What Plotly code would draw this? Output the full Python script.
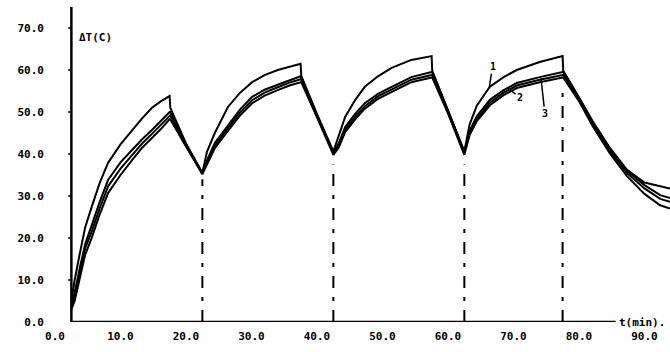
import plotly.graph_objects as go

# time (min)
t = [2.5, 3.0, 3.8, 4.6, 5.6, 6.8, 8.1, 10.0, 11.8, 13.3, 14.8, 16.2, 17.5, 17.6, 20.0, 22.5,
     23.2, 24.4, 26.4, 28.2, 30.1, 32.0, 34.0, 35.8, 37.5, 37.6, 40.0, 42.5,
     43.3, 44.3, 45.8, 47.3, 49.3, 51.4, 54.4, 57.5, 57.6, 60.0, 62.5,
     63.3, 64.4, 66.4, 68.5, 70.5, 74.0, 77.5, 77.6, 80.0, 82.1, 84.7, 87.3, 90.0, 92.4, 93.9]

s1 = [5, 10, 16.4, 22.5, 27.4, 33, 37.9, 42.3, 45.7, 48.5, 51, 52.6, 53.8, 51, 42.5, 35.5,
      40.5, 45, 51.2, 54.5, 57.1, 58.8, 60, 60.8, 61.5, 58.6, 49.5, 40.6,
      44.5, 48.8, 52.8, 56, 58.5, 60.5, 62.4, 63.3, 59.8, 50.5, 40.6,
      47, 51.5, 56, 58.3, 60, 61.9, 63.3, 59.8, 53.5, 47.8, 41.5, 36.3, 33.2, 32.3, 31.8]
s2 = [4, 7, 13, 18.5, 23, 28.5, 33.8, 38, 41, 43.5, 45.7, 48, 50.0, 50.0, 42.3, 35.3,
      38.5, 42.6, 46.9, 50.5, 53.6, 55.3, 56.5, 57.6, 58.5, 58.3, 49.3, 40.4,
      42.5, 46.4, 49.5, 52.1, 54.3, 56, 58.3, 59.5, 59.5, 50.3, 40.4,
      45.5, 49, 52.9, 55.2, 56.9, 58.3, 59.5, 59.5, 53.3, 47.5, 41.2, 36, 32.6, 30.2, 29.5]
s3 = [3.5, 6, 12, 17.5, 21.5, 27, 32.3, 36.5, 39.8, 42.5, 44.8, 47, 49.2, 49.2, 42.0, 35.5,
      38, 42, 46.2, 49.8, 52.8, 54.6, 55.9, 57.0, 57.8, 57.8, 49, 40.2,
      42, 45.8, 48.8, 51.4, 53.7, 55.4, 57.7, 58.8, 58.8, 50, 40.2,
      45, 48.4, 52.2, 54.6, 56.3, 57.7, 58.8, 58.8, 53, 47.2, 40.8, 35.5, 31.8, 29.3, 28.6]
s4 = [3, 5, 10.5, 16, 20, 25.5, 30.7, 35, 38.6, 41.5, 43.8, 46, 48.3, 48.3, 41.8, 35.2,
      37.5, 41.4, 45.5, 49.1, 52.1, 53.9, 55.2, 56.3, 57.1, 57.1, 48.7, 39.8,
      41.5, 45.2, 48.2, 50.8, 53.1, 54.8, 57.1, 58.2, 58.2, 49.7, 39.8,
      44.5, 47.8, 51.6, 54, 55.7, 57.1, 58.2, 58.2, 52.6, 46.6, 40.2, 34.8, 30.5, 27.8, 27.0]

# switching instants (dash-dot markers) and the level where each marker starts
switch_t = [22.5, 42.5, 62.5, 77.5]
switch_top = [34.0, 37.5, 37.5, 55.5]

x_ticks = [0, 10, 20, 30, 40, 50, 60, 70, 80, 90]
x_labels = ["0.0", "10.0", "20.0", "30.0", "40.0", "50.0", "60.0", "70.0", "80.0", "90.0"]
y_ticks = [0, 10, 20, 30, 40, 50, 60, 70]
y_labels = ["0.0", "10.0", "20.0", "30.0", "40.0", "50.0", "60.0", "70.0"]

curve_labels = ["1", "2", "3"]
label_pos = [(66.8, 60.8), (71.0, 53.4), (74.8, 49.6)]
label_tip = [(66.3, 55.8), (69.2, 55.6), (74.2, 58.0)]

fig = go.Figure()
for s in (s1, s2, s3, s4):
    fig.add_trace(go.Scatter(x=t, y=s, mode="lines",
                             line=dict(color="black", width=2), showlegend=False,
                             hoverinfo="skip"))

for xs, top in zip(switch_t, switch_top):
    fig.add_trace(go.Scatter(x=[xs, xs], y=[0, top], mode="lines",
                             line=dict(color="black", width=2, dash="12px,9px,4px,9px"),
                             showlegend=False, hoverinfo="skip"))

# axes lines
fig.add_shape(type="line", x0=2.5, x1=2.5, y0=0, y1=75, xref="x", yref="y",
              line=dict(color="black", width=2.5))
fig.add_shape(type="line", x0=2.5, x1=85.6, y0=0, y1=0, xref="x", yref="y",
              line=dict(color="black", width=2.5))
for yv in y_ticks[1:]:
    fig.add_shape(type="line", x0=2.0, x1=2.5, y0=yv, y1=yv, xref="x", yref="y",
                  line=dict(color="black", width=1.5))

bold = dict(family="DejaVu Sans Mono", size=11, color="black", weight="bold")

fig.add_annotation(x=3.3, y=67.8, xref="x", yref="y", text="ΔT(C)", showarrow=False,
                   xanchor="left", yanchor="middle", font=bold)
fig.add_annotation(x=85.8, y=0, xref="x", yref="y", text="t(min).", showarrow=False,
                   xanchor="left", yanchor="middle", font=bold)

for txt, (lx, ly), (tx, ty) in zip(curve_labels, label_pos, label_tip):
    fig.add_annotation(x=tx, y=ty, xref="x", yref="y", ax=lx, ay=ly, axref="x", ayref="y",
                       text=txt, showarrow=True, arrowhead=0, arrowwidth=1.5,
                       arrowcolor="black", font=dict(family="DejaVu Sans Mono", size=10,
                                                      color="black", weight="bold"))

fig.update_layout(
    width=670, height=352,
    margin=dict(l=48, r=0, t=7, b=30),
    paper_bgcolor="white", plot_bgcolor="white",
    xaxis=dict(range=[-1.07, 93.9], tickvals=x_ticks, ticktext=x_labels,
               showgrid=False, zeroline=False, showline=False, ticks="",
               tickfont=bold, ticklabelstandoff=6),
    yaxis=dict(range=[0, 75], tickvals=y_ticks, ticktext=y_labels,
               showgrid=False, zeroline=False, showline=False, ticks="",
               tickfont=bold, ticklabelstandoff=3),
)

fig.write_html("out.html")
